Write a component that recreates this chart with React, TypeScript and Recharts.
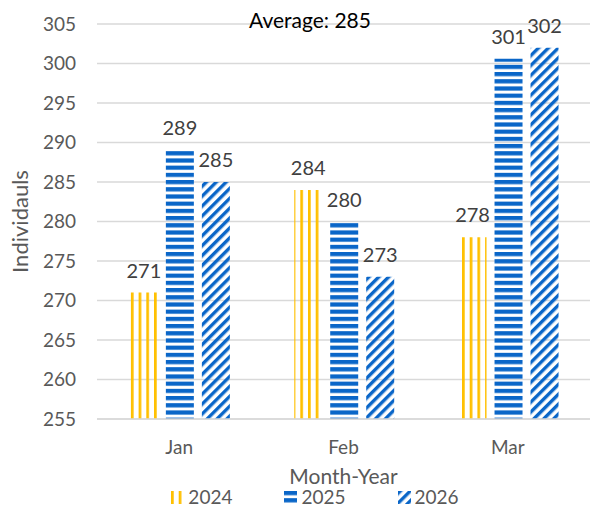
import React from "react";
import { BarChart, Bar, XAxis, YAxis, CartesianGrid, LabelList, Legend, Label } from "recharts";

const months = ["Jan", "Feb", "Mar"];
const values2024 = [271, 284, 278];
const values2025 = [289, 280, 300.6];
const values2026 = [285, 273, 302];
const yTicks = [255, 260, 265, 270, 275, 280, 285, 290, 295, 300, 305];
const seriesNames = ["2024", "2025", "2026"];
const titleText = "Average: 285";

const data = months.map((m, i) => ({
  month: m,
  y2024: values2024[i],
  y2025: values2025[i],
  y2026: values2026[i],
}));

const FONT = "Lato, 'Open Sans', sans-serif";
const YELLOW = "#FFC000";
const BLUE = "#0A66C8";
const GRAY = "#595959";

const fills = ["url(#pat2024)", "url(#pat2025)", "url(#pat2026)"];

const LegendContent = () => (
  <div style={{ display: "flex", justifyContent: "center", fontFamily: FONT, fontSize: 19, color: GRAY, paddingLeft: 40, lineHeight: "20px", height: 20 }}>
    {seriesNames.map((n, i) => (
      <div key={n} style={{ display: "flex", alignItems: "center", marginRight: i < 2 ? 52 : 0 }}>
        <svg width={13} height={13} style={{ marginRight: 4 }}>
          <rect x={0} y={0} width={13} height={13} fill={fills[i]} />
        </svg>
        <span>{n}</span>
      </div>
    ))}
  </div>
);

const fmt = (v: any) => Math.round(Number(v));

export default function App() {
  return (
    <div style={{ position: "absolute", left: 0, top: 0, width: 590, height: 510, background: "#fff" }}>
      <BarChart
        width={590}
        height={510}
        data={data}
        margin={{ top: 24, right: 0, left: 0, bottom: 41 }}
        barCategoryGap="20%"
        barGap={8}
      >
        <defs>
          <pattern id="pat2024" patternUnits="userSpaceOnUse" width={7.7} height={10}>
            <rect x={0} y={0} width={2.7} height={10} fill={YELLOW} />
          </pattern>
          <pattern id="pat2025" patternUnits="userSpaceOnUse" width={10} height={7.2}>
            <rect x={0} y={0} width={10} height={4.2} fill={BLUE} />
          </pattern>
          <pattern id="pat2026" patternUnits="userSpaceOnUse" width={7} height={10} patternTransform="rotate(45)">
            <rect x={0} y={0} width={3.4} height={10} fill={BLUE} />
          </pattern>
        </defs>
        <CartesianGrid vertical={false} stroke="#d9d9d9" strokeWidth={1.5} />
        <XAxis
          dataKey="month"
          tickLine={false}
          axisLine={{ stroke: "#d9d9d9", strokeWidth: 1.5 }}
          tick={{ fill: GRAY, fontSize: 19, fontFamily: FONT }}
          tickMargin={16}
        >
          <Label value="Month-Year" position="insideBottom" offset={-35} style={{ fill: GRAY, fontSize: 21, fontFamily: FONT }} />
        </XAxis>
        <YAxis
          width={97}
          domain={[255, 305]}
          ticks={yTicks}
          interval={0}
          tickLine={false}
          axisLine={false}
          tick={{ fill: GRAY, fontSize: 19, fontFamily: FONT }}
          tickMargin={15}
        >
          <Label value="Individauls" angle={-90} position="insideLeft" offset={20} style={{ fill: GRAY, fontSize: 22, fontFamily: FONT, textAnchor: "middle" }} />
        </YAxis>
        <Legend verticalAlign="bottom" content={<LegendContent />} wrapperStyle={{ left: 0, top: 487, width: 590, height: 20 }} />
        <Bar dataKey="y2024" name="2024" fill="url(#pat2024)" isAnimationActive={false}>
          <LabelList dataKey="y2024" position="top" offset={15} formatter={fmt} style={{ fill: "#404040", fontSize: 20, fontFamily: FONT }} />
        </Bar>
        <Bar dataKey="y2025" name="2025" fill="url(#pat2025)" isAnimationActive={false}>
          <LabelList dataKey="y2025" position="top" offset={15} formatter={fmt} style={{ fill: "#404040", fontSize: 20, fontFamily: FONT }} />
        </Bar>
        <Bar dataKey="y2026" name="2026" fill="url(#pat2026)" isAnimationActive={false}>
          <LabelList dataKey="y2026" position="top" offset={15} formatter={fmt} style={{ fill: "#404040", fontSize: 20, fontFamily: FONT }} />
        </Bar>
        <text x={310} y={28} textAnchor="middle" fill="#000" fontSize={21} fontFamily={FONT}>{titleText}</text>
      </BarChart>
    </div>
  );
}
